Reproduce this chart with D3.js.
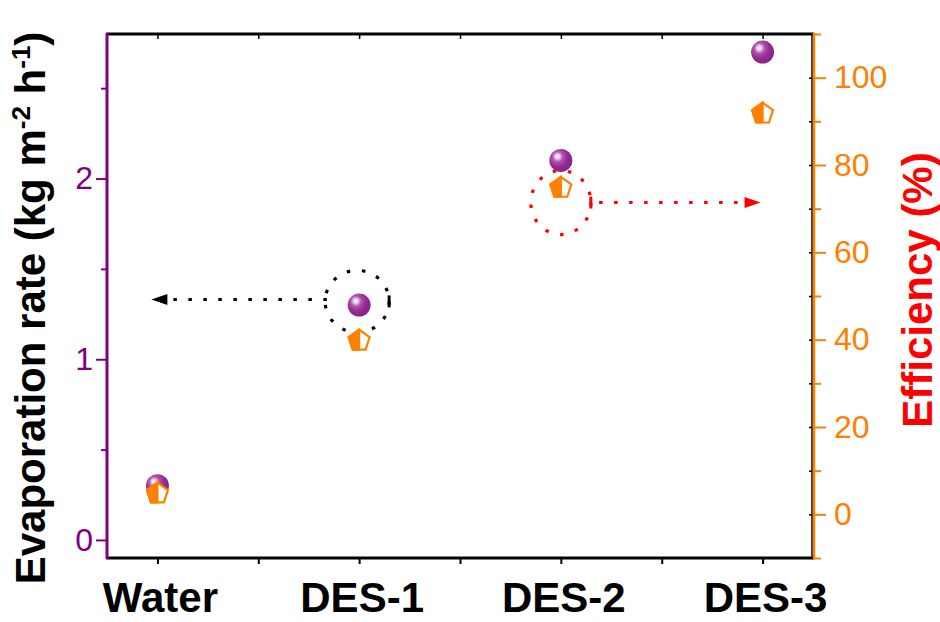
<!DOCTYPE html>
<html>
<head>
<meta charset="utf-8">
<script src="https://cdn.jsdelivr.net/npm/d3@7/dist/d3.min.js"></script>
<style>
  html, body { margin: 0; padding: 0; background: #fff; }
  svg { display: block; font-family: "Liberation Sans", Arial, sans-serif; }
</style>
</head>
<body>
<svg id="chart" width="940" height="622"></svg>
<script>
// ---- data ----
const categories = ["Water", "DES-1", "DES-2", "DES-3"];
const evaporationRate = [0.30, 1.30, 2.10, 2.70];   // kg m-2 h-1
const efficiency = [5, 40, 75, 92];                  // %
const leftTicks = [0, 1, 2];
const leftMinorTicks = [0.5, 1.5, 2.5];
const rightTicks = [0, 20, 40, 60, 80, 100];
const rightMinorTicks = [-10, 10, 30, 50, 70, 90, 110];
// annotations (data units)
const blackCircle = { cat: 1.0, value: 1.32 };
const blackArrow = { from: 0.84, to: -0.03, value: 1.33 };
const redCircle = { cat: 2.0, value: 71.4 };
const redArrow = { from: 2.15, to: 2.99, value: 71.4 };

// ---- layout ----
const L = 107, R = 813, T = 34, B = 558;
const purple = "#800080", orange = "#FF8000", red = "#FF0000";

const svg = d3.select("#chart");
const x = d3.scaleLinear().domain([-0.25, 3.25]).range([L, R]);
const yL = d3.scaleLinear().domain([-0.1, 2.8]).range([B, T]);
const yR = d3.scaleLinear().domain([-10, 110]).range([B, T]);

// defs
const defs = svg.append("defs");
const grad = defs.append("radialGradient").attr("id", "sphere")
  .attr("cx", "38%").attr("cy", "35%").attr("r", "65%").attr("fx", "35%").attr("fy", "32%");
grad.append("stop").attr("offset", "0%").attr("stop-color", "#ffffff");
grad.append("stop").attr("offset", "14%").attr("stop-color", "#efd4ee");
grad.append("stop").attr("offset", "35%").attr("stop-color", "#b055ad");
grad.append("stop").attr("offset", "65%").attr("stop-color", "#952c92");
grad.append("stop").attr("offset", "100%").attr("stop-color", "#88218a");

// ---- x axis (bottom, outward) ----
const xTicks = [0, 0.5, 1, 1.5, 2, 2.5, 3];
svg.append("g").attr("transform", `translate(0,${B})`)
  .call(d3.axisBottom(x).tickValues(xTicks).tickSize(6).tickFormat(""))
  .call(g => { g.select(".domain").remove(); g.selectAll("line").attr("stroke", "#000").attr("stroke-width", 2); });
// top frame ticks (inward)
svg.append("g").attr("transform", `translate(0,${T})`)
  .call(d3.axisBottom(x).tickValues(xTicks).tickSize(5).tickFormat(""))
  .call(g => { g.select(".domain").remove(); g.selectAll("line").attr("stroke", "#000").attr("stroke-width", 1.5); });

svg.append("g").selectAll("text").data(categories).join("text")
  .attr("x", (d, i) => x(i) + 3).attr("y", 612)
  .attr("text-anchor", "middle").attr("font-size", 42).attr("font-weight", "bold")
  .attr("fill", "#000").text(d => d);

// frame lines
svg.append("line").attr("x1", L - 1).attr("x2", R + 1).attr("y1", T).attr("y2", T).attr("stroke", "#000").attr("stroke-width", 3);
svg.append("line").attr("x1", L - 1).attr("x2", R + 1).attr("y1", B).attr("y2", B).attr("stroke", "#000").attr("stroke-width", 3);
svg.append("line").attr("x1", R - 1).attr("x2", R - 1).attr("y1", T).attr("y2", B).attr("stroke", "#000").attr("stroke-width", 1.5);

// right frame inward ticks (black)
svg.append("g").attr("transform", `translate(${R - 1},0)`)
  .call(d3.axisLeft(yR).tickValues(rightTicks.concat(rightMinorTicks.slice(1, -1))).tickSize(3).tickFormat(""))
  .call(g => { g.select(".domain").remove(); g.selectAll("line").attr("stroke", "#000").attr("stroke-width", 1.5); });

// ---- left axis ----
const gl = svg.append("g").attr("transform", `translate(${L},0)`);
gl.call(d3.axisLeft(yL).tickValues(leftTicks).tickSize(11).tickPadding(3).tickFormat(d3.format("d")))
  .call(g => {
    g.select(".domain").remove();
    g.selectAll("line").attr("stroke", purple).attr("stroke-width", 2);
    g.selectAll("text").attr("fill", purple).attr("font-size", 32)
      .attr("font-family", "'Liberation Sans', Arial, sans-serif");
  });
svg.append("g").attr("transform", `translate(${L},0)`)
  .call(d3.axisLeft(yL).tickValues(leftMinorTicks).tickSize(6).tickFormat(""))
  .call(g => { g.select(".domain").remove(); g.selectAll("line").attr("stroke", purple).attr("stroke-width", 2); });
svg.append("line").attr("x1", L).attr("x2", L).attr("y1", T - 1).attr("y2", B + 1).attr("stroke", purple).attr("stroke-width", 3);

svg.append("text")
  .attr("transform", `translate(45,${(T + B) / 2 + 12}) rotate(-90)`)
  .attr("text-anchor", "middle").attr("font-size", 42).attr("font-weight", "bold").attr("fill", "#000")
  .call(t => {
    t.append("tspan").text("Evaporation rate (kg m");
    t.append("tspan").attr("dy", -15).attr("font-size", 26).text("-2");
    t.append("tspan").attr("dy", 15).text(" h");
    t.append("tspan").attr("dy", -15).attr("font-size", 26).text("-1");
    t.append("tspan").attr("dy", 15).text(")");
  });

// ---- right axis ----
svg.append("g").attr("transform", `translate(${R + 1},0)`)
  .call(d3.axisRight(yR).tickValues(rightTicks).tickSize(12).tickPadding(8).tickFormat(d3.format("d")))
  .call(g => {
    g.select(".domain").remove();
    g.selectAll("line").attr("stroke", orange).attr("stroke-width", 2);
    g.selectAll("text").attr("fill", orange).attr("font-size", 32)
      .attr("font-family", "'Liberation Sans', Arial, sans-serif");
  });
svg.append("g").attr("transform", `translate(${R + 1},0)`)
  .call(d3.axisRight(yR).tickValues(rightMinorTicks).tickSize(7).tickFormat(""))
  .call(g => { g.select(".domain").remove(); g.selectAll("line").attr("stroke", orange).attr("stroke-width", 2); });
svg.append("line").attr("x1", R + 1).attr("x2", R + 1).attr("y1", T - 1).attr("y2", B + 1).attr("stroke", orange).attr("stroke-width", 2.5);

svg.append("text")
  .attr("transform", `translate(932,290) rotate(-90)`)
  .attr("text-anchor", "middle").attr("font-size", 42).attr("font-weight", "bold").attr("fill", red)
  .text("Efficiency (%)");

// ---- annotations ----
function dottedArrow(x1, x2, yy, color) {
  const dir = Math.sign(x2 - x1);
  const headLen = 16, headH = 5.5;
  const base = x2 - dir * headLen;
  svg.append("line").attr("x1", x1).attr("x2", base - dir * 2).attr("y1", yy).attr("y2", yy)
    .attr("stroke", color).attr("stroke-width", 3).attr("stroke-dasharray", "3.5 11.5");
  svg.append("path")
    .attr("d", `M${x2},${yy} L${base},${yy - headH} L${base},${yy + headH} Z`)
    .attr("fill", color);
}
function dottedEllipse(cx, cy, rx, ry, color) {
  svg.append("ellipse").attr("cx", cx).attr("cy", cy).attr("rx", rx).attr("ry", ry)
    .attr("fill", "none").attr("stroke", color).attr("stroke-width", 3.2).attr("stroke-dasharray", "3.5 11.8");
  svg.append("line").attr("x1", cx + rx).attr("x2", cx + rx).attr("y1", cy - 6).attr("y2", cy + 6)
    .attr("stroke", color).attr("stroke-width", 3);
}
dottedEllipse(x(blackCircle.cat) - 2, yL(blackCircle.value), 32, 31, "#000");
dottedArrow(x(blackArrow.from), x(blackArrow.to), yL(blackArrow.value), "#000");
dottedEllipse(x(redCircle.cat), yR(redCircle.value), 30, 32, red);
dottedArrow(x(redArrow.from) + 8, x(redArrow.to), yR(redArrow.value), red);

// ---- markers ----
svg.append("g").selectAll("circle").data(evaporationRate).join("circle")
  .attr("cx", (d, i) => x(i)).attr("cy", d => yL(d)).attr("r", 11.5)
  .attr("fill", "url(#sphere)");

const r = 11;
const pent = [[0, -r], [0.951 * r, -0.309 * r], [0.588 * r, 0.809 * r], [-0.588 * r, 0.809 * r], [-0.951 * r, -0.309 * r]];
const halfPent = [[0, -r], [-0.951 * r, -0.309 * r], [-0.588 * r, 0.809 * r], [0, 0.809 * r]];
const pg = svg.append("g").selectAll("g").data(efficiency).join("g")
  .attr("transform", (d, i) => `translate(${x(i)},${yR(d) + 1})`);
pg.append("polygon").attr("points", pent.map(p => p.join(",")).join(" "))
  .attr("fill", "#fff").attr("stroke", orange).attr("stroke-width", 2.2).attr("stroke-linejoin", "miter");
pg.append("polygon").attr("points", halfPent.map(p => p.join(",")).join(" "))
  .attr("fill", orange).attr("stroke", orange).attr("stroke-width", 2.2);
</script>
</body>
</html>
